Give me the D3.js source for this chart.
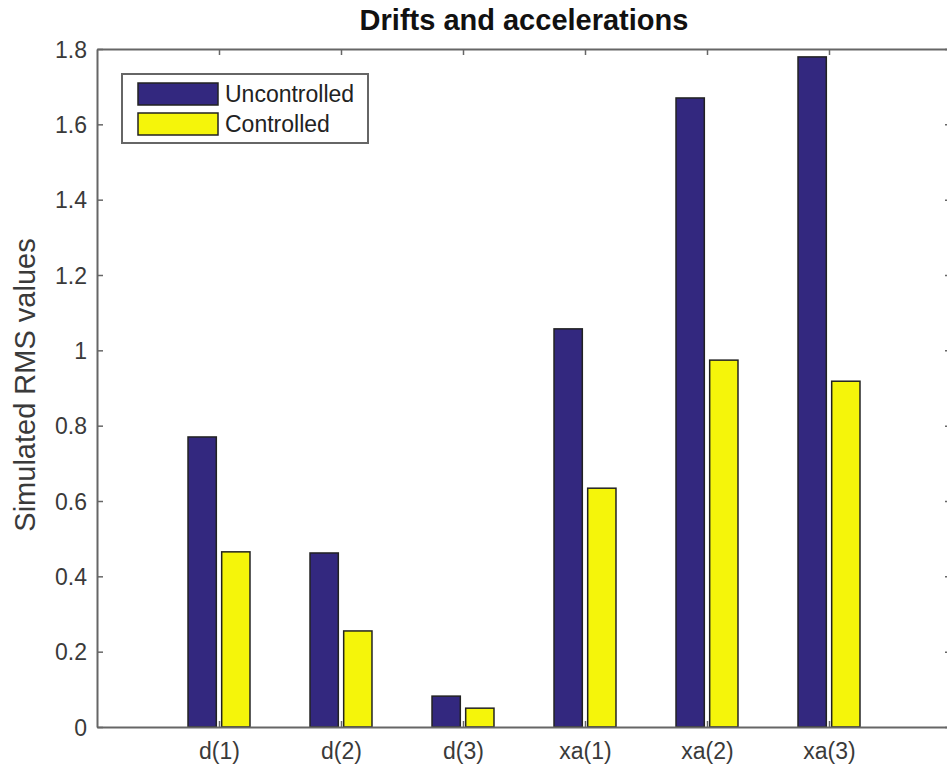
<!DOCTYPE html>
<html><head><meta charset="utf-8">
<script src="https://cdn.jsdelivr.net/npm/d3@7"></script>
<style>body{margin:0;background:#fff;} svg{display:block;font-family:"Liberation Sans",Arial,sans-serif;}</style>
</head><body>
<svg id="chart" width="947" height="769"></svg>
<script>
const categories = ["d(1)","d(2)","d(3)","xa(1)","xa(2)","xa(3)"];
const seriesNames = ["Uncontrolled","Controlled"];
const uncontrolled = [0.770, 0.462, 0.082, 1.057, 1.670, 1.779];
const controlled = [0.465, 0.255, 0.050, 0.634, 0.974, 0.918];
const yTicks = [0,0.2,0.4,0.6,0.8,1,1.2,1.4,1.6,1.8];
const colors = ["#33287f","#f5f50a"];

const svg = d3.select("#chart");
const L=97, R=951, T=49, B=727;
const x = d3.scaleLinear().domain([0,7]).range([L,R]);
const y = d3.scaleLinear().domain([0,1.8]).range([B,T]);
const series=[uncontrolled,controlled];
const off=[-0.138,0.138], bw=0.232;
const axisCol="#666";
const FONT='"Liberation Sans",Arial,sans-serif';

svg.append("rect").attr("x",L).attr("y",T).attr("width",R-L).attr("height",B-T).attr("fill","#fff");

series.forEach((vals,si)=>{
  svg.append("g").selectAll("rect").data(vals).join("rect")
    .attr("x",(d,i)=>x(i+1+off[si]-bw/2))
    .attr("width",x(bw)-x(0))
    .attr("y",d=>y(d)).attr("height",d=>y(0)-y(d))
    .attr("fill",colors[si]).attr("stroke","#222").attr("stroke-width",1.5);
});

// axes
const gl=svg.append("g").attr("transform",`translate(${L},0)`).call(d3.axisLeft(y).tickValues(yTicks).tickFormat(d3.format("~g")).tickSizeInner(-6).tickSizeOuter(0).tickPadding(10));
const gr=svg.append("g").attr("transform",`translate(${R},0)`).call(d3.axisRight(y).tickValues(yTicks).tickFormat("").tickSizeInner(-6).tickSizeOuter(0));
const gb=svg.append("g").attr("transform",`translate(0,${B})`).call(d3.axisBottom(x).tickValues(d3.range(1,7)).tickFormat(i=>categories[i-1]).tickSizeInner(-6).tickSizeOuter(0).tickPadding(16));
const gt=svg.append("g").attr("transform",`translate(0,${T})`).call(d3.axisTop(x).tickValues(d3.range(1,7)).tickFormat("").tickSizeInner(-6).tickSizeOuter(0));
[gl,gr,gb,gt].forEach(g=>{
  g.select(".domain").attr("stroke",axisCol).attr("stroke-width",2);
  g.selectAll(".tick line").attr("stroke",axisCol).attr("stroke-width",1.5);
  g.selectAll("text").attr("fill","#3a3a3a").style("font-size","23px").style("font-family",FONT);
});
gl.selectAll(".tick text").attr("dy","0.35em");

// title & label
svg.append("text").attr("x",(L+R)/2).attr("y",30).attr("text-anchor","middle")
  .style("font-size","29px").style("font-weight","bold").attr("fill","#111").text("Drifts and accelerations");
svg.append("text").attr("transform",`translate(35,${385}) rotate(-90)`).attr("text-anchor","middle")
  .style("font-size","29px").attr("fill","#3a3a3a").text("Simulated RMS values");

// legend
const lg=svg.append("g");
lg.append("rect").attr("x",122).attr("y",74).attr("width",246).attr("height",69).attr("fill","#fff").attr("stroke",axisCol).attr("stroke-width",2);
seriesNames.forEach((n,i)=>{
  lg.append("rect").attr("x",138).attr("y",83+i*30).attr("width",80).attr("height",22).attr("fill",colors[i]).attr("stroke","#222").attr("stroke-width",1.5);
  lg.append("text").attr("x",225).attr("y",94+i*30).attr("dy","0.35em").style("font-size","23px").attr("fill","#222").text(n);
});
</script>
</body></html>
